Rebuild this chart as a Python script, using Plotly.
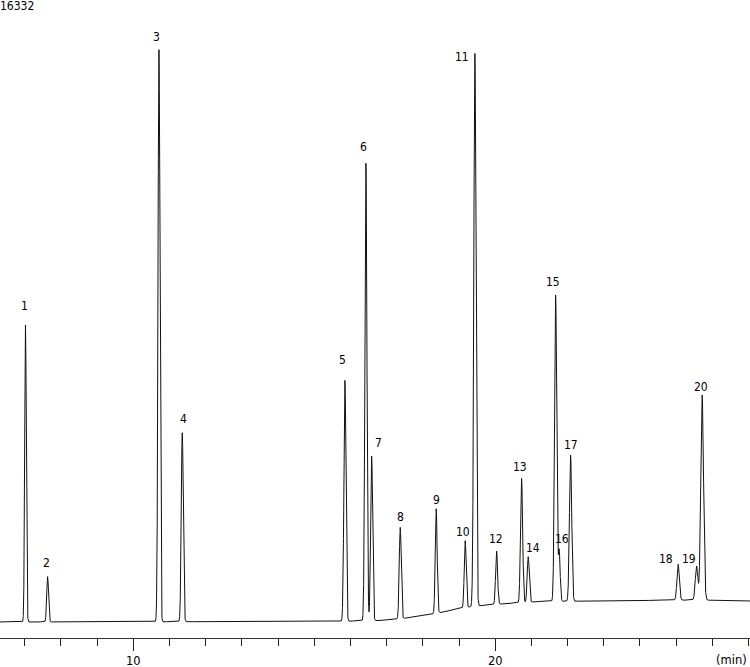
import numpy as np
import plotly.graph_objects as go

# ---- data ----
peak_labels = [str(i) for i in range(1, 21)]
retention_min = [7.022, 7.633, 10.710, 11.354, 15.848, 16.428, 16.586, 17.376, 18.370, 19.171,
                 19.439, 20.039, 20.729, 20.912, 21.669, 21.768, 22.083, 25.055, 25.564, 25.718]
peak_height = [8479, 1293, 16332, 5396, 6875, 13062, 4696, 2607, 2983, 1913,
               15782, 1522, 3546, 1299, 8745, 1456, 4168, 1025, 971, 5853]
peak_sigma_min = [0.022, 0.024, 0.026, 0.027, 0.028, 0.028, 0.027, 0.027, 0.026, 0.026,
                  0.030, 0.027, 0.029, 0.027, 0.030, 0.026, 0.031, 0.033, 0.035, 0.038]
baseline_time = [6.318, 15.43, 16.81, 17.45, 18.28, 19.02, 19.49, 20.32, 21.23, 22.89, 24.0, 25.66, 27.04]
baseline_signal = [0, 14, 43, 100, 228, 385, 457, 528, 585, 600, 614, 628, 600]
x_tick_vals = [10, 20]
x_tick_text = ["10", "20"]
max_label = "16332"

# label offsets (pixels) relative to each peak apex
label_dx = [-1, -1, -2, 1.5, -2, -2, 6.5, 0, 0, -2.5, -12.5, -1, -2, 4.5, -2.5, 3, 0, -12, -7.5, -1.5]
label_dy = [18.5, 14, 13, 14, 20, 16, 13, 10, 8.5, 9, -3.5, 12.5, 11, 9, 13.5, 11, 10.5, 5, 7, 8.5]

# ---- build the trace ----
t = np.arange(6.30, 27.06, 0.001)
t = np.union1d(t, np.array(retention_min))
sig = np.interp(t, baseline_time, baseline_signal)
for rt, h, s in zip(retention_min, peak_height, peak_sigma_min):
    sig = sig + h * np.exp(-0.5 * ((t - rt) / s) ** 2)

apex = [np.interp(rt, baseline_time, baseline_signal) + h for rt, h in zip(retention_min, peak_height)]

k = 28.55  # signal units per pixel
fig = go.Figure()
fig.add_trace(go.Scatter(x=t, y=sig, mode="lines", line=dict(color="#111111", width=1),
                         hoverinfo="skip", showlegend=False))

label_font = dict(family="DejaVu Sans Condensed, Liberation Sans, sans-serif", size=12, color="#000")
annotations = []
for lab, rt, ay, dx, dy in zip(peak_labels, retention_min, apex, label_dx, label_dy):
    annotations.append(dict(x=rt, y=ay, xref="x", yref="y", text=lab, showarrow=False,
                            xanchor="center", yanchor="middle", xshift=dx, yshift=dy,
                            font=label_font))
annotations.append(dict(x=0, y=1, xref="paper", yref="paper", text=max_label, showarrow=False,
                        xanchor="left", yanchor="top", xshift=-2, yshift=3, font=label_font))
annotations.append(dict(x=1, y=0, xref="paper", yref="paper", text="(min)", showarrow=False,
                        xanchor="right", yanchor="middle", xshift=-1, yshift=-22,
                        font=dict(family="DejaVu Sans, sans-serif", size=11.5, color="#000")))

fig.update_layout(
    width=750, height=667,
    margin=dict(l=0, r=0, t=0, b=29),
    paper_bgcolor="white", plot_bgcolor="white",
    annotations=annotations,
    xaxis=dict(range=[6.318, 27.04], showgrid=False, zeroline=False,
               showline=True, linecolor="#333", linewidth=1,
               tickmode="array", tickvals=x_tick_vals, ticktext=x_tick_text,
               ticks="outside", ticklen=12, tickcolor="#222", tickwidth=1,
               tickfont=dict(family="DejaVu Sans, sans-serif", size=11.5, color="#000"),
               minor=dict(dtick=1, tick0=0, ticks="outside", ticklen=7, tickcolor="#222", tickwidth=1),
               fixedrange=True),
    yaxis=dict(range=[-16 * k, 622 * k], visible=False, fixedrange=True),
)

fig.write_html("out.html")
